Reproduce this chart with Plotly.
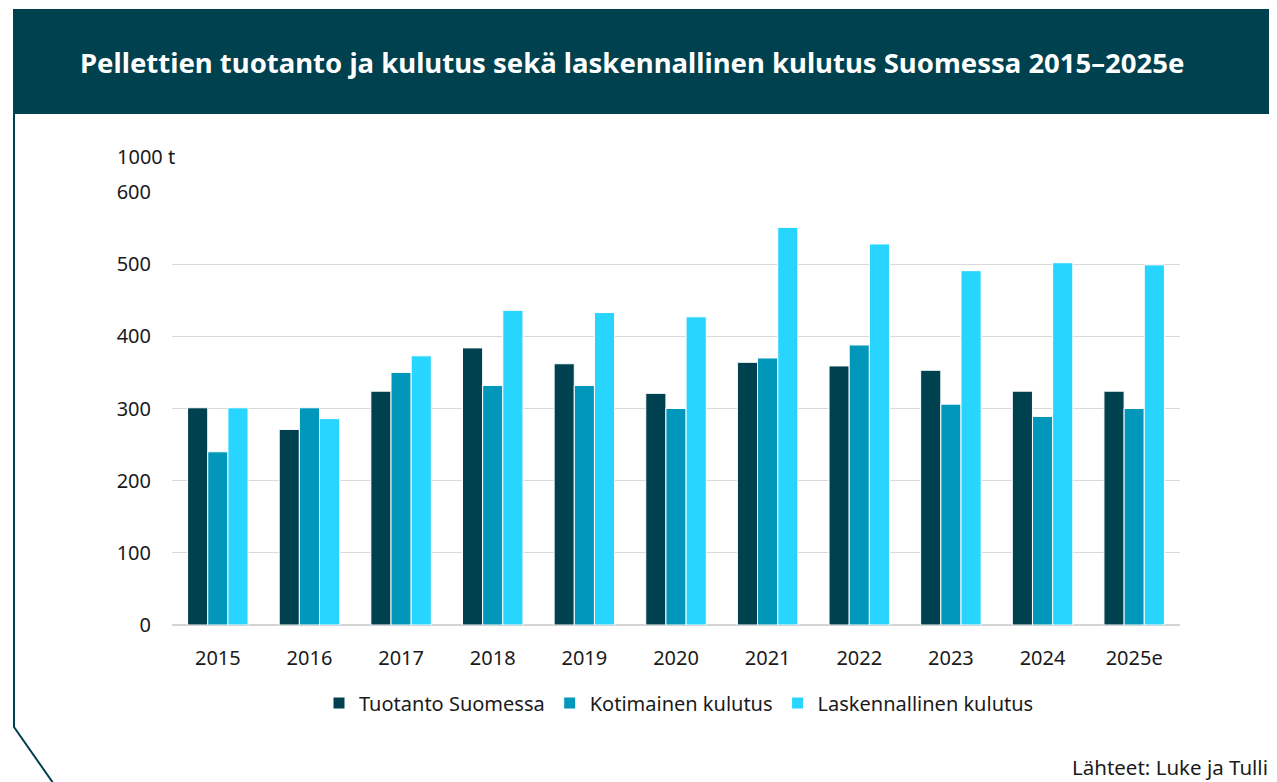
import plotly.graph_objects as go

# page body has an 8px margin, so the figure is shifted by OFF and made smaller
OFF = 8
W, H = 1277 - OFF, 782 - OFF
L, R, T, B = 172 - OFF, 1277 - 1180, 192 - OFF, 782 - 625

DARK = "#00414f"
MID = "#0097ba"
LIGHT = "#28d5ff"
FONT = "Noto Sans, Open Sans, sans-serif"
TXT = "#1a1a1a"

years = ["2015", "2016", "2017", "2018", "2019", "2020",
         "2021", "2022", "2023", "2024", "2025e"]
tuotanto = [301, 271, 324, 384, 362, 321, 364, 359, 353, 324, 324]
kotimainen = [240, 301, 350, 332, 332, 300, 370, 388, 306, 289, 300]
laskennallinen = [301, 286, 373, 436, 433, 427, 551, 528, 491, 502, 499]


def px(x):
    """screen pixel x -> paper coordinate"""
    return (x - OFF - L) / (W - L - R)


def py(y):
    """screen pixel y -> paper coordinate"""
    return (H - B - (y - OFF)) / (H - T - B)


fig = go.Figure()
for name, vals, color in (("Tuotanto Suomessa", tuotanto, DARK),
                          ("Kotimainen kulutus", kotimainen, MID),
                          ("Laskennallinen kulutus", laskennallinen, LIGHT)):
    fig.add_trace(go.Bar(x=years, y=vals, name=name, marker_color=color,
                         marker_line=dict(color="white", width=1)))

# header band and left frame line
fig.add_shape(type="rect", xref="paper", yref="paper",
              x0=px(13), x1=px(1290), y0=py(9), y1=py(114),
              fillcolor=DARK, line_width=0, layer="below")
fig.add_shape(type="path", xref="paper", yref="paper",
              path=f"M {px(14)},{py(114)} L {px(14)},{py(727)} L {px(58)},{py(790)}",
              line=dict(color=DARK, width=2))

fig.add_annotation(xref="paper", yref="paper", x=px(632), y=py(62),
                   xanchor="center", yanchor="middle",
                   text="<b>Pellettien tuotanto ja kulutus sekä laskennallinen kulutus Suomessa 2015–2025e</b>",
                   showarrow=False, font=dict(size=27.5, color="white", family=FONT))
fig.add_annotation(xref="paper", yref="paper", x=px(115), y=py(156),
                   xanchor="left", yanchor="middle",
                   text="1000 t", showarrow=False,
                   font=dict(size=20, color=TXT, family=FONT))
fig.add_annotation(xref="paper", yref="paper", x=px(1275), y=py(767),
                   xanchor="right", yanchor="middle",
                   text="Lähteet: Luke ja Tulli.", showarrow=False,
                   font=dict(size=20.5, color=TXT, family=FONT))

fig.update_layout(
    width=W, height=H,
    margin=dict(l=L, r=R, t=T, b=B),
    paper_bgcolor="white", plot_bgcolor="white",
    font=dict(family=FONT, size=20, color=TXT),
    barmode="group", bargap=0.34, bargroupgap=0.0,
    showlegend=True,
    legend=dict(orientation="h", x=px(679), xanchor="center", y=py(703), yanchor="middle",
                font=dict(size=20), itemwidth=30, traceorder="normal"),
)
fig.update_xaxes(showgrid=False, showline=False, ticks="outside", ticklen=15,
                 tickcolor="white", tickfont=dict(size=20))
fig.update_yaxes(range=[0, 600], dtick=100, gridcolor="#d9d9d9", gridwidth=1,
                 zeroline=True, zerolinecolor="#d4d4d4", zerolinewidth=2,
                 showline=False, ticks="outside", ticklen=16, tickcolor="white",
                 tickfont=dict(size=20))

fig.write_html("out.html")
